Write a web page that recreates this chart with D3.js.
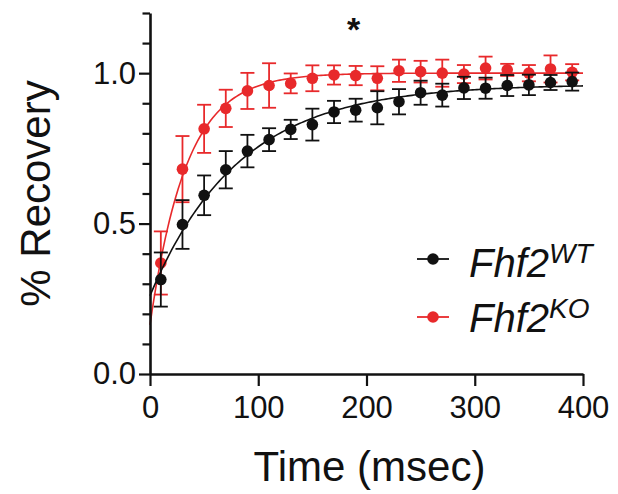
<!DOCTYPE html>
<html>
<head>
<meta charset="utf-8">
<script src="https://cdn.jsdelivr.net/npm/d3@7"></script>
<style>
  html, body { margin: 0; padding: 0; background: #fff; }
  svg { display: block; }
  text { font-family: "Liberation Sans", Arial, Helvetica, sans-serif; fill: #111; }
</style>
</head>
<body>
<svg id="chart" width="618" height="494"></svg>
<script>
// FRAP recovery time course, mean ± SEM per genotype
const timesMs = [10, 30, 50, 70, 90, 110, 130, 150, 170, 190, 210, 230, 250, 270, 290, 310, 330, 350, 370, 390];
const wtMean = [0.314, 0.497, 0.594, 0.679, 0.741, 0.779, 0.813, 0.829, 0.871, 0.877, 0.885, 0.905, 0.935, 0.927, 0.951, 0.950, 0.959, 0.961, 0.969, 0.972];
const wtSem  = [0.090, 0.081, 0.066, 0.062, 0.054, 0.038, 0.032, 0.053, 0.037, 0.038, 0.055, 0.042, 0.040, 0.038, 0.037, 0.035, 0.035, 0.034, 0.025, 0.030];
const koMean = [0.369, 0.681, 0.815, 0.883, 0.941, 0.959, 0.966, 0.983, 0.994, 0.992, 0.983, 1.008, 1.005, 1.000, 0.997, 1.017, 1.011, 1.000, 1.014, 1.003];
const koSem  = [0.105, 0.110, 0.080, 0.062, 0.060, 0.074, 0.033, 0.043, 0.032, 0.032, 0.040, 0.037, 0.036, 0.045, 0.030, 0.038, 0.020, 0.027, 0.045, 0.027];
const xTicks = [0, 100, 200, 300, 400];
const yMajorTicks = [0, 0.5, 1.0];
const yMinorTicks = [0.1, 0.2, 0.3, 0.4, 0.6, 0.7, 0.8, 0.9, 1.1, 1.2];
const seriesNames = ["WT", "KO"];
const seriesColors = ["#111111", "#e8292b"];
const significanceMark = "*";
const significanceAt = [190, 1.17];

const svg = d3.select("#chart");

const x = d3.scaleLinear().domain([0, 400]).range([150, 583]);
const y = d3.scaleLinear().domain([0, 1.2]).range([374, 13]);

// One-phase association fit: Y = Y0 + (Plateau - Y0) * (1 - exp(-K t)),
// K by grid search, Y0 and span by linear least squares for each K.
function fitAssociation(ts, ys) {
  let best = null;
  for (let k = 0.002; k <= 0.2; k += 0.0002) {
    const X = ts.map(t => 1 - Math.exp(-k * t));
    const mx = d3.mean(X), my = d3.mean(ys);
    let sxy = 0, sxx = 0;
    X.forEach((xi, i) => { sxy += (xi - mx) * (ys[i] - my); sxx += (xi - mx) * (xi - mx); });
    const b = sxy / sxx, a = my - b * mx;
    const sse = d3.sum(X, (xi, i) => (ys[i] - a - b * xi) ** 2);
    if (!best || sse < best.sse) best = { k, y0: a, span: b, sse };
  }
  return t => best.y0 + best.span * (1 - Math.exp(-best.k * t));
}

const series = [
  { name: seriesNames[1], color: seriesColors[1], mean: koMean, sem: koSem },
  { name: seriesNames[0], color: seriesColors[0], mean: wtMean, sem: wtSem }
];

const curveT = d3.range(0, 400.5, 2);

series.forEach(s => {
  const g = svg.append("g");
  const f = fitAssociation(timesMs, s.mean);
  g.append("path")
    .attr("d", d3.line().x(t => x(t)).y(t => y(f(t)))(curveT))
    .attr("fill", "none")
    .attr("stroke", s.color)
    .attr("stroke-width", 1.6);

  const pts = timesMs.map((t, i) => ({ t, m: s.mean[i], e: s.sem[i] }));
  const eb = g.append("g").attr("stroke", s.color).attr("stroke-width", 1.8).attr("fill", "none");
  eb.selectAll("line.v").data(pts).join("line")
    .attr("x1", d => x(d.t)).attr("x2", d => x(d.t))
    .attr("y1", d => y(d.m - d.e)).attr("y2", d => y(d.m + d.e));
  eb.selectAll("line.top").data(pts).join("line")
    .attr("x1", d => x(d.t) - 7).attr("x2", d => x(d.t) + 7)
    .attr("y1", d => y(d.m + d.e)).attr("y2", d => y(d.m + d.e));
  eb.selectAll("line.bot").data(pts).join("line")
    .attr("x1", d => x(d.t) - 7).attr("x2", d => x(d.t) + 7)
    .attr("y1", d => y(d.m - d.e)).attr("y2", d => y(d.m - d.e));

  g.selectAll("circle").data(pts).join("circle")
    .attr("cx", d => x(d.t)).attr("cy", d => y(d.m))
    .attr("r", 5.8)
    .attr("fill", s.color);
});

// Axes
const axisStyle = sel => {
  sel.select(".domain").attr("stroke", "#111").attr("stroke-width", 2.6);
  sel.selectAll(".tick line").attr("stroke", "#111").attr("stroke-width", 2.2);
  sel.selectAll(".tick text").attr("fill", "#111").style("font-size", "31px")
    .style("font-family", '"Liberation Sans", Arial, sans-serif');
};

const yMinor = svg.append("g").attr("transform", `translate(${x(0)},0)`)
  .call(d3.axisLeft(y).tickValues(yMinorTicks).tickSize(7.5).tickSizeOuter(0).tickFormat(""));
yMinor.select(".domain").remove();
yMinor.selectAll(".tick line").attr("stroke", "#111").attr("stroke-width", 2.2);

const yAxis = svg.append("g").attr("transform", `translate(${x(0)},0)`)
  .call(d3.axisLeft(y).tickValues(yMajorTicks).tickSize(11).tickSizeOuter(0).tickPadding(3)
    .tickFormat(d3.format(".1f")));
axisStyle(yAxis);

const xAxis = svg.append("g").attr("transform", `translate(0,${y(0)})`)
  .call(d3.axisBottom(x).tickValues(xTicks).tickSize(12).tickSizeOuter(0).tickPadding(10)
    .tickFormat(d3.format("d")));
axisStyle(xAxis);

// Axis titles
svg.append("text")
  .attr("x", (x(0) + x(400)) / 2 + 3).attr("y", 481)
  .attr("text-anchor", "middle")
  .style("font-size", "42px")
  .text("Time (msec)");

svg.append("text")
  .attr("transform", `translate(50, ${y(0.6)}) rotate(-90)`)
  .attr("text-anchor", "middle")
  .style("font-size", "42px")
  .text("% Recovery");

// Significance marker
svg.append("text")
  .attr("x", x(significanceAt[0]) - 2).attr("y", y(significanceAt[1]) + 19)
  .attr("text-anchor", "middle")
  .style("font-size", "34px").style("font-weight", "bold")
  .text(significanceMark);

// Legend
const legendRows = [
  { name: seriesNames[0], color: seriesColors[0], cy: 259, base: 277 },
  { name: seriesNames[1], color: seriesColors[1], cy: 317, base: 332 }
];
legendRows.forEach(r => {
  const g = svg.append("g");
  g.append("line").attr("x1", 417).attr("x2", 449).attr("y1", r.cy).attr("y2", r.cy)
    .attr("stroke", r.color).attr("stroke-width", 1.8);
  g.append("circle").attr("cx", 433).attr("cy", r.cy).attr("r", 5.8).attr("fill", r.color);
  const t = g.append("text").attr("x", 469).attr("y", r.base)
    .style("font-size", "40px").style("font-style", "italic");
  t.append("tspan").text("Fhf2");
  t.append("tspan").attr("dy", -14).style("font-size", "28px").text(r.name);
});
</script>
</body>
</html>
